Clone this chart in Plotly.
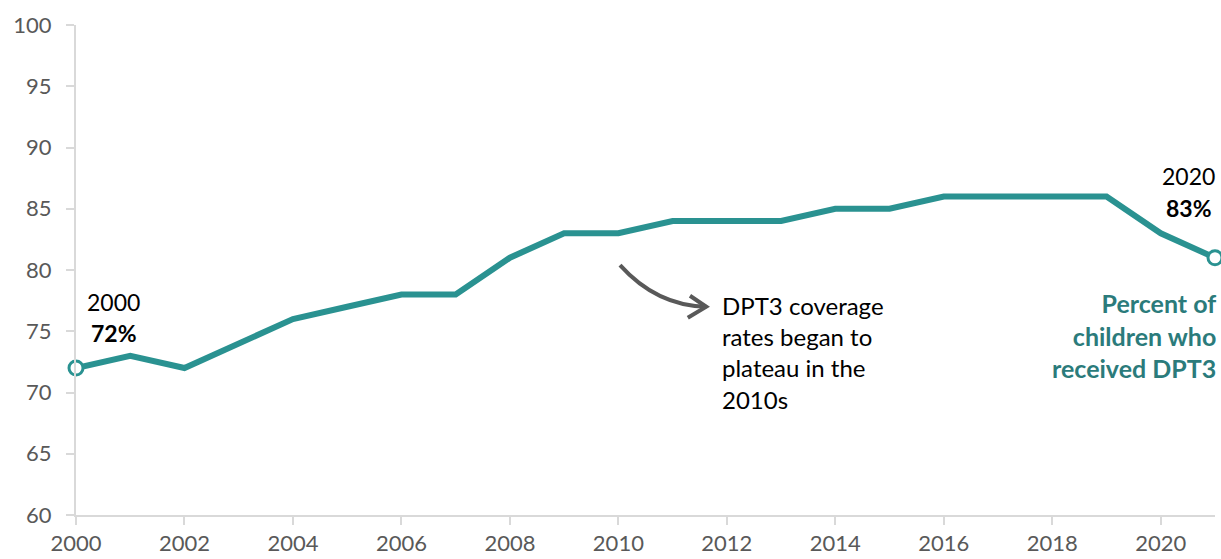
import plotly.graph_objects as go

years = list(range(2000, 2022))
coverage = [72, 73, 72, 74, 76, 77, 78, 78, 81, 83, 83, 84, 84, 84, 85, 85, 86, 86, 86, 86, 83, 81]
y_ticks = [60, 65, 70, 75, 80, 85, 90, 95, 100]
x_ticks = list(range(2000, 2022, 2))

TEAL = "#2a9291"
TEAL_TXT = "#2b7b7b"
GREY = "#595959"
AXIS = "#d9d9d9"
FONT = "Lato"

fig = go.Figure()
fig.add_trace(go.Scatter(x=years, y=coverage, mode="lines",
                         line=dict(color=TEAL, width=6), hoverinfo="skip"))
fig.add_trace(go.Scatter(x=[years[0], years[-1]], y=[coverage[0], coverage[-1]], mode="markers",
                         marker=dict(size=14, color="white", line=dict(color=TEAL, width=3)),
                         hoverinfo="skip", cliponaxis=False))

fig.update_layout(
    width=1221, height=559,
    margin=dict(l=76, r=6, t=25, b=44),
    plot_bgcolor="white", paper_bgcolor="white",
    showlegend=False,
    font=dict(family=FONT, color=GREY, size=22),
    xaxis=dict(range=[2000, 2021], tickvals=x_ticks, ticks="outside", ticklen=8,
               tickcolor=AXIS, tickwidth=2, showline=True, linecolor=AXIS, linewidth=2,
               showgrid=False, zeroline=False, tickfont=dict(size=22, color=GREY),
               ticklabelstandoff=0, automargin=False),
    yaxis=dict(range=[60, 100], tickvals=y_ticks, ticks="outside", ticklen=8,
               tickcolor=AXIS, tickwidth=2, showline=True, linecolor=AXIS, linewidth=2,
               showgrid=False, zeroline=False, tickfont=dict(size=22, color=GREY),
               ticklabelstandoff=10, automargin=False),
)

ann = [
    dict(x=2000.70, y=77.4, text="2000", font=dict(size=23, color="black")),
    dict(x=2000.70, y=74.85, text="<b>72%</b>", font=dict(size=23, color="black")),
    dict(x=2020.52, y=87.65, text="2020", font=dict(size=23, color="black")),
    dict(x=2020.52, y=85.05, text="<b>83%</b>", font=dict(size=23, color="black")),
]
for a in ann:
    fig.add_annotation(xref="x", yref="y", showarrow=False, **a)

fig.add_annotation(xref="paper", yref="paper", x=1.003, y=0.468, xanchor="right", yanchor="top",
                   align="right", showarrow=False,
                   text="<b>Percent of<br>children who<br>received DPT3</b>",
                   font=dict(size=25, color=TEAL_TXT))
fig.add_annotation(xref="x", yref="y", x=2011.88, y=78.45, xanchor="left", yanchor="top",
                   align="left", showarrow=False,
                   text="DPT3 coverage<br>rates began to<br>plateau in the<br>2010s",
                   font=dict(size=24, color="black"))

# curved arrow
fig.add_shape(type="path", xref="x", yref="y",
              path="M 2010.03,80.4 Q 2010.7,77.1 2011.62,77.0",
              line=dict(color=GREY, width=4))
fig.add_shape(type="path", xref="x", yref="y",
              path="M 2011.32,77.9 L 2011.62,77.0 L 2011.28,76.1",
              line=dict(color=GREY, width=4))

fig.write_html("out.html")
